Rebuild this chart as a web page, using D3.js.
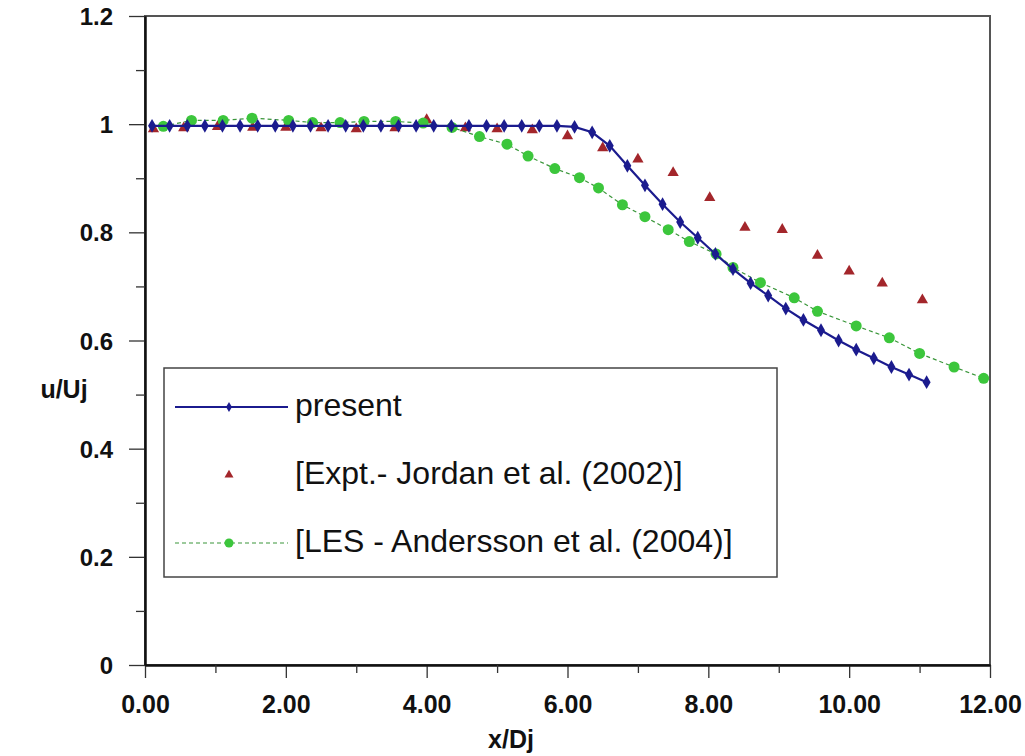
<!DOCTYPE html>
<html>
<head>
<meta charset="utf-8">
<script src="https://cdn.jsdelivr.net/npm/d3@7/dist/d3.min.js"></script>
<style>
  html, body { margin: 0; padding: 0; background: #fff; }
  svg { display: block; font-family: "Liberation Sans", Arial, sans-serif; }
</style>
</head>
<body>
<svg id="chart" width="1025" height="756"></svg>
<script>
// ---- data ----
const presentX = [0.10,0.35,0.60,0.85,1.10,1.35,1.60,1.85,2.10,2.35,2.60,2.85,3.10,3.35,3.60,3.85,4.10,4.35,4.60,4.85,5.10,5.35,5.60,5.85,6.10,6.35,6.60,6.85,7.10,7.35,7.60,7.85,8.10,8.35,8.60,8.85,9.10,9.35,9.60,9.85,10.10,10.35,10.60,10.85,11.10];
const presentY = [0.997,0.997,0.997,0.997,0.997,0.997,0.997,0.997,0.997,0.997,0.997,0.997,0.997,0.997,0.997,0.997,0.997,0.997,0.997,0.997,0.997,0.997,0.997,0.997,0.995,0.985,0.960,0.923,0.887,0.852,0.819,0.790,0.760,0.732,0.706,0.683,0.659,0.638,0.619,0.600,0.583,0.567,0.551,0.537,0.523];

const exptX = [0.12,0.55,1.03,1.53,2.00,2.50,3.00,3.55,4.00,4.55,5.00,5.50,6.00,6.50,7.00,7.50,8.02,8.52,9.05,9.55,10.00,10.47,11.04];
const exptY = [0.991,0.993,0.995,0.994,0.994,0.993,0.991,0.993,1.008,0.993,0.991,0.989,0.978,0.956,0.935,0.910,0.864,0.809,0.805,0.757,0.728,0.706,0.675];

const lesX = [0.26,0.66,1.11,1.52,2.04,2.38,2.77,3.11,3.56,3.95,4.36,4.75,5.14,5.44,5.82,6.17,6.44,6.78,7.10,7.43,7.73,8.11,8.35,8.74,9.22,9.55,10.10,10.57,11.00,11.49,11.91];
const lesY = [0.996,1.007,1.007,1.011,1.007,1.003,1.003,1.005,1.005,1.002,0.994,0.977,0.963,0.941,0.918,0.901,0.882,0.851,0.829,0.805,0.783,0.760,0.735,0.707,0.679,0.654,0.627,0.605,0.576,0.551,0.530];

const xTicks = [0,2,4,6,8,10,12];
const xMinorTicks = [1,3,5,7,9,11];
const yTicks = [0,0.2,0.4,0.6,0.8,1,1.2];
const yMinorTicks = [0.1,0.3,0.5,0.7,0.9,1.1];
const legendLabels = ["present", "[Expt.- Jordan et al. (2002)]", "[LES - Andersson et al. (2004)]"];

// ---- layout ----
const pLeft = 145, pRight = 990, pTop = 16, pBottom = 665;
const svg = d3.select("#chart");
const x = d3.scaleLinear().domain([0, 12]).range([pLeft, pRight]);
const y = d3.scaleLinear().domain([0, 1.2]).range([pBottom, pTop]);

const navy = "#1b1b8e", red = "#a3262b", green = "#3cc63c", greenLine = "#3a963a";

// frame
svg.append("rect").attr("x", pLeft).attr("y", pTop).attr("width", pRight - pLeft).attr("height", pBottom - pTop)
  .attr("fill", "none").attr("stroke", "#555").attr("stroke-width", 2);

// axes
const xAxis = svg.append("g").attr("transform", `translate(0,${pBottom})`)
  .call(d3.axisBottom(x).tickValues(xTicks).tickSize(13).tickSizeOuter(0).tickFormat(d3.format(".2f")));
const xMinor = svg.append("g").attr("transform", `translate(0,${pBottom})`)
  .call(d3.axisBottom(x).tickValues(xMinorTicks).tickSize(8).tickSizeOuter(0).tickFormat(""));
const yAxis = svg.append("g").attr("transform", `translate(${pLeft},0)`)
  .call(d3.axisLeft(y).tickValues(yTicks).tickSize(16).tickSizeOuter(0).tickFormat(d => String(+d.toFixed(1))));
const yMinor = svg.append("g").attr("transform", `translate(${pLeft},0)`)
  .call(d3.axisLeft(y).tickValues(yMinorTicks).tickSize(9).tickSizeOuter(0).tickFormat(""));

[xAxis, xMinor, yAxis, yMinor].forEach(g => {
  g.select(".domain").attr("stroke", "#111").attr("stroke-width", 2);
  g.selectAll(".tick line").attr("stroke", "#333").attr("stroke-width", 1.3);
});
xAxis.selectAll(".tick text").attr("font-size", 25).attr("font-weight", "bold").attr("fill", "#111")
  .attr("dy", 0).attr("y", 48);
yAxis.selectAll(".tick text").attr("font-size", 24).attr("font-weight", "bold").attr("fill", "#111")
  .attr("x", -32).attr("dy", "0.36em");

// axis titles
svg.append("text").attr("x", 511).attr("y", 748).attr("text-anchor", "middle")
  .attr("font-size", 25).attr("font-weight", "bold").attr("fill", "#111").text("x/Dj");
svg.append("text").attr("x", 64).attr("y", 398).attr("text-anchor", "middle")
  .attr("font-size", 25).attr("font-weight", "bold").attr("fill", "#111").text("u/Uj");

// ---- series ----
const line = d3.line().x(d => x(d[0])).y(d => y(d[1]));
const exptData = exptX.map((v, i) => [v, exptY[i]]);
const lesData = lesX.map((v, i) => [v, lesY[i]]);
const presentData = presentX.map((v, i) => [v, presentY[i]]);

// Expt triangles
svg.append("g").selectAll("path").data(exptData).join("path")
  .attr("transform", d => `translate(${x(d[0])},${y(d[1])})`)
  .attr("d", d3.symbol(d3.symbolTriangle, 55)).attr("fill", red);

// LES
svg.append("path").datum(lesData).attr("d", line).attr("fill", "none")
  .attr("stroke", greenLine).attr("stroke-width", 1.2).attr("stroke-dasharray", "4,3");
svg.append("g").selectAll("circle").data(lesData).join("circle")
  .attr("cx", d => x(d[0])).attr("cy", d => y(d[1])).attr("r", 5.5).attr("fill", green);

// present
svg.append("path").datum(presentData).attr("d", line).attr("fill", "none")
  .attr("stroke", navy).attr("stroke-width", 2.2);
svg.append("g").selectAll("path").data(presentData).join("path")
  .attr("transform", d => `translate(${x(d[0])},${y(d[1])})`)
  .attr("d", d3.symbol(d3.symbolDiamond, 55)).attr("fill", navy);

// ---- legend ----
const lg = svg.append("g");
lg.append("rect").attr("x", 164).attr("y", 368).attr("width", 613).attr("height", 209)
  .attr("fill", "#fff").attr("stroke", "#444").attr("stroke-width", 1.5);
const rows = [407, 475, 543];
lg.append("line").attr("x1", 175).attr("x2", 288).attr("y1", rows[0]).attr("y2", rows[0])
  .attr("stroke", navy).attr("stroke-width", 2);
lg.append("path").attr("transform", `translate(229,${rows[0]})`).attr("d", d3.symbol(d3.symbolDiamond, 30)).attr("fill", navy);
lg.append("path").attr("transform", `translate(229,${rows[1]})`).attr("d", d3.symbol(d3.symbolTriangle, 35)).attr("fill", red);
lg.append("line").attr("x1", 175).attr("x2", 288).attr("y1", rows[2]).attr("y2", rows[2])
  .attr("stroke", greenLine).attr("stroke-width", 1.2).attr("stroke-dasharray", "4,3");
lg.append("circle").attr("cx", 229).attr("cy", rows[2]).attr("r", 4.5).attr("fill", green);

lg.selectAll("text.lab").data(legendLabels).join("text").attr("class", "lab")
  .attr("x", 295).attr("y", (d, i) => rows[i] + 9)
  .attr("font-size", 32).attr("fill", "#111").text(d => d);
</script>
</body>
</html>
